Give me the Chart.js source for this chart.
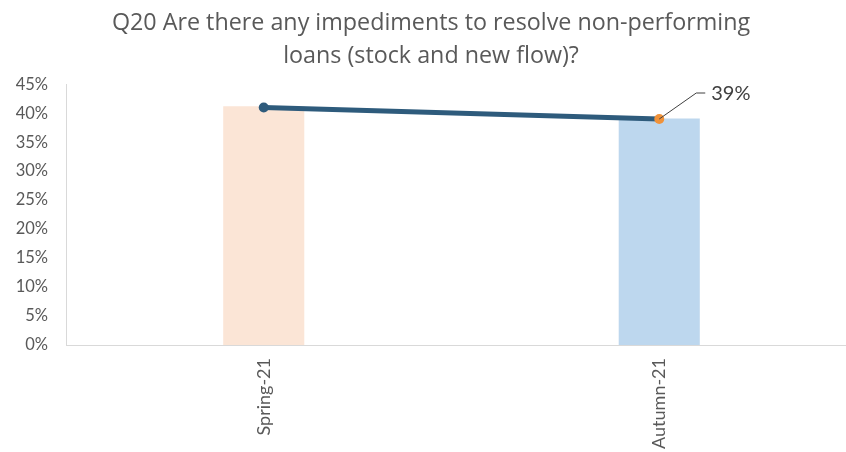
<!DOCTYPE html>
<html>
<head>
<meta charset="utf-8">
<script src="https://cdn.jsdelivr.net/npm/chart.js@4"></script>
<style>
  html, body { margin: 0; padding: 0; background: #fff; overflow: hidden; }
  #wrap { width: 862px; height: 452px; }
</style>
</head>
<body>
<div id="wrap"><canvas id="c" width="862" height="452"></canvas></div>
<script>
const categories = ['Spring-21', 'Autumn-21'];
const barValues = [41.2, 39.1];
const lineValues = [41, 39];
const titleLines = ['Q20 Are there any impediments to resolve non-performing', 'loans (stock and new flow)?'];
const labelIndex = 1;

const barColors = ['#fbe5d6', '#bdd7ee'];
const pointColors = ['#2e5b7c', '#f0923a'];

const calloutPlugin = {
  id: 'callout',
  afterDatasetsDraw(chart) {
    const meta = chart.getDatasetMeta(0);
    const pt = meta.data[labelIndex];
    if (!pt) return;
    const ctx = chart.ctx;
    const x = pt.x, y = pt.y;
    ctx.save();
    ctx.strokeStyle = '#404040';
    ctx.lineWidth = 1;
    ctx.beginPath();
    ctx.moveTo(x, y);
    ctx.lineTo(x + 37, y - 26);
    ctx.lineTo(x + 46, y - 26);
    ctx.stroke();
    ctx.fillStyle = '#404040';
    ctx.font = '20px Lato';
    ctx.textAlign = 'left';
    ctx.textBaseline = 'middle';
    ctx.fillText(Math.round(lineValues[labelIndex]) + '%', x + 52, y - 25);
    ctx.restore();
  }
};

new Chart(document.getElementById('c'), {
  data: {
    labels: categories,
    datasets: [
      {
        type: 'line',
        data: lineValues,
        borderColor: '#2e5b7c',
        borderWidth: 5,
        pointRadius: 5,
        pointBackgroundColor: pointColors,
        pointBorderColor: pointColors,
        pointBorderWidth: 0,
        order: 0
      },
      {
        type: 'bar',
        data: barValues,
        backgroundColor: barColors,
        barPercentage: 0.205,
        categoryPercentage: 1.0,
        order: 1
      }
    ]
  },
  options: {
    responsive: false,
    animation: false,
    layout: { padding: { top: 0, bottom: 0, left: 0, right: 0 } },
    plugins: {
      legend: { display: false },
      tooltip: { enabled: false },
      title: {
        display: true,
        text: titleLines,
        color: '#595959',
        font: { family: 'Open Sans', size: 23.3, weight: 'normal', lineHeight: 1.4 },
        padding: { top: 7, bottom: 12 }
      }
    },
    scales: {
      x: {
        grid: { display: false, drawTicks: false },
        border: { color: '#d9d9d9', width: 1 },
        ticks: {
          color: '#595959',
          font: { family: 'Lato', size: 18 },
          minRotation: 90,
          maxRotation: 90,
          padding: 13
        },
        afterFit(scale) { scale.height = 107; }
      },
      y: {
        min: 0,
        max: 45,
        grid: { display: false, drawTicks: false },
        border: { color: '#d9d9d9', width: 1 },
        ticks: {
          stepSize: 5,
          color: '#595959',
          font: { family: 'Lato', size: 16.5 },
          padding: 18,
          callback: v => v + '%'
        },
        afterFit(scale) { scale.width = 66; }
      }
    }
  },
  plugins: [calloutPlugin]
});
</script>
</body>
</html>
